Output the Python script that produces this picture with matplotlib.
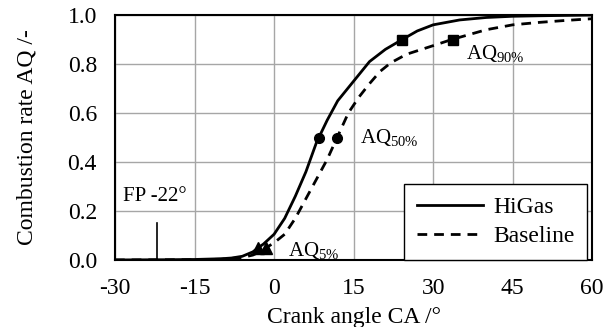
import matplotlib.pyplot as plt

plt.rcParams['font.family'] = ['Liberation Serif', 'DejaVu Serif']
plt.rcParams['mathtext.fontset'] = 'custom'
plt.rcParams['mathtext.rm'] = 'Liberation Serif'
plt.rcParams['mathtext.it'] = 'Liberation Serif'
plt.rcParams['axes.unicode_minus'] = False

# HiGas combustion curve
higas_ca = [-30, -20, -15, -10, -8, -6, -4, -3, -2, 0, 2, 4, 6, 8, 10, 12, 15,
            18, 21, 24, 27, 30, 35, 40, 45, 50, 60]
higas_aq = [0.0, 0.001, 0.002, 0.005, 0.008, 0.015, 0.033, 0.05, 0.065, 0.105,
            0.17, 0.26, 0.36, 0.48, 0.57, 0.65, 0.73, 0.81, 0.86, 0.898, 0.935,
            0.96, 0.98, 0.99, 0.995, 0.997, 1.0]

# Baseline combustion curve
base_ca = [-30, -15, -10, -6, -4, -2, -1.5, 0, 2, 4, 6, 8, 10, 12, 14, 16, 18,
           20, 22, 25, 30, 33.5, 40, 45, 50, 55, 60]
base_aq = [0.0, 0.001, 0.003, 0.01, 0.02, 0.04, 0.05, 0.07, 0.105, 0.17, 0.25,
           0.33, 0.41, 0.505, 0.6, 0.665, 0.72, 0.77, 0.805, 0.84, 0.875, 0.9,
           0.94, 0.96, 0.97, 0.978, 0.985]

# characteristic points AQ5%, AQ50%, AQ90%
higas_pts_ca = [-3.0, 8.4, 24.2]
base_pts_ca = [-1.5, 11.9, 33.7]
pts_aq = [0.05, 0.5, 0.9]
pt_markers = ['^', 'o', 's']
pt_sizes = [8, 7, 7]

fp_angle = -22

fig = plt.figure(figsize=(6.15, 3.27), dpi=100)
ax = fig.add_axes([0.187, 0.205, 0.776, 0.749])

ax.plot(higas_ca, higas_aq, color='black', lw=2, label='HiGas')
ax.plot(base_ca, base_aq, color='black', lw=2, ls=(0, (3.5, 2.5)), label='Baseline')

for i in range(3):
    ax.plot(higas_pts_ca[i], pts_aq[i], marker=pt_markers[i], color='black', ms=pt_sizes[i])
    ax.plot(base_pts_ca[i], pts_aq[i], marker=pt_markers[i], color='black', ms=pt_sizes[i])

ax.plot([fp_angle, fp_angle], [0, 0.15], color='black', lw=1.2)
ax.text(-28.5, 0.26, 'FP -22°', fontsize=15, va='center')

ax.text(2.6, 0.04, r'AQ$_{5\%}$', fontsize=15, va='center')
ax.text(16.2, 0.50, r'AQ$_{50\%}$', fontsize=15, va='center')
ax.text(36.2, 0.845, r'AQ$_{90\%}$', fontsize=15, va='center')

ax.set_xlim(-30, 60)
ax.set_ylim(0, 1.0)
ax.set_xticks([-30, -15, 0, 15, 30, 45, 60])
ax.set_yticks([0.0, 0.2, 0.4, 0.6, 0.8, 1.0])
ax.set_yticklabels(['0.0', '0.2', '0.4', '0.6', '0.8', '1.0'])
ax.tick_params(axis='y', length=0, labelsize=17, pad=13)
ax.tick_params(axis='x', length=0, labelsize=17, pad=13)
ax.grid(True, color='#a6a6a6', lw=1)
ax.set_axisbelow(True)
for s in ax.spines.values():
    s.set_linewidth(1.5)

ax.set_xlabel('Crank angle CA /°', fontsize=17, labelpad=6)
ax.set_ylabel('Combustion rate AQ /-', fontsize=17, labelpad=22)

leg = ax.legend(loc='lower right', bbox_to_anchor=(0.9895, 0.0), fontsize=17,
                fancybox=False, framealpha=1, edgecolor='black',
                borderaxespad=0, handlelength=2.8, handletextpad=0.4,
                borderpad=0.55, labelspacing=0.3)
leg.get_frame().set_linewidth(1)

fig.savefig('out.png', dpi=100)
